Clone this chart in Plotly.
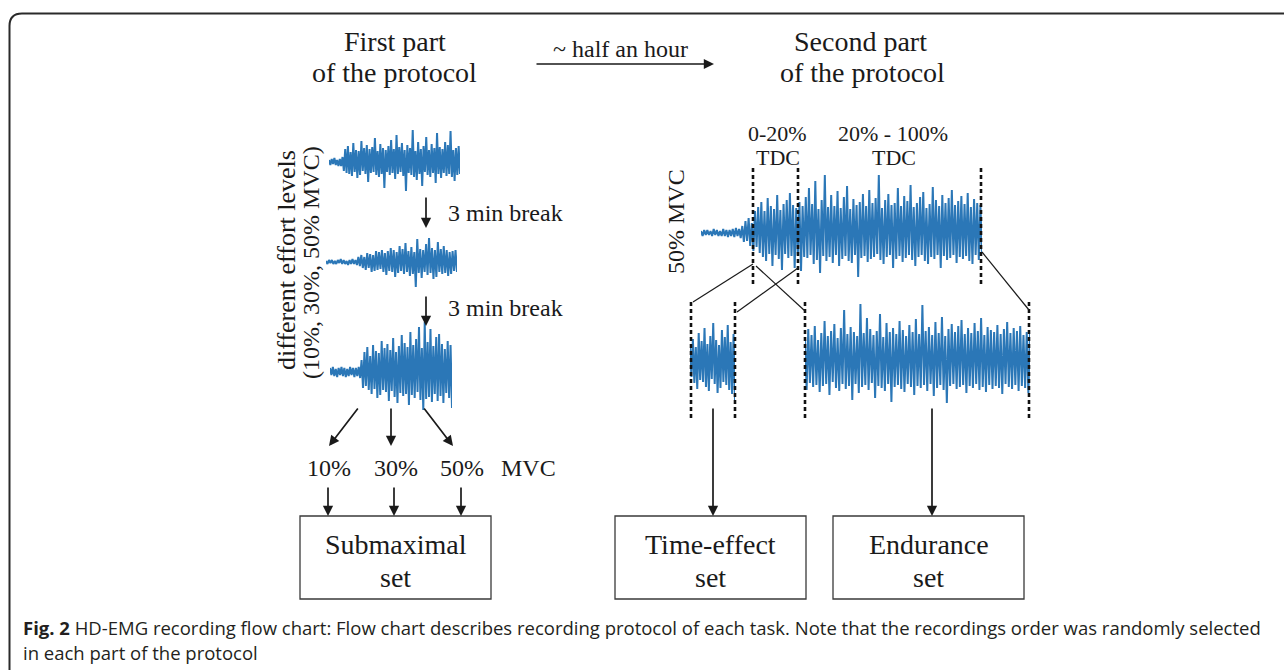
import numpy as np
import plotly.graph_objects as go

W, H = 1284, 670

# ---- EMG traces (signed amplitudes of successive peaks / troughs) ----
emg_10 = [2, -3, 3, -2, 4, -3, 2, -4, 3, -4, 5,
          -9, 13, -11, 16, -12, 10, -14, 19, -10, 12, -16, 11, -13, 21, -9, 14, -12, 17, -20, 13, -11,
          15, -10, 24, -13, 11, -15, 18, -12, 14, -26, 12, -10, 16, -13, 22, -11, 13, -17, 27, -12, 15,
          -10, 19, -14, 12, -29, 17, -11, 14, -13, 32, -15, 11, -18, 20, -12, 13, -24, 16, -10, 25, -13,
          12, -15, 18, -11, 14, -21, 29, -12, 15, -16, 13, -11, 20, -14, 17, -12, 31, -15, 12, -19, 14,
          -13, 16, -12]
emg_30 = [1, -2, 2, -1, 2, -2, 1, -2, 2, -1, 3, -2, 2, -2, 1, -3, 2, -2, 3, -2, 2, -3,
          5, -4, 7, -6, 5, -8, 9, -6, 8, -10, 7, -9, 11, -8, 10, -7, 12, -10, 9, -13,
          11, -9, 14, -10, 12, -15, 10, -11, 16, -9, 13, -12, 19, -10, 11, -14, 15, -12, 10, -25, 23,
          -11, 13, -16, 12, -10, 18, -13, 24, -11, 14, -17, 12, -15, 20, -10, 13, -12, 16, -11, 12,
          -14, 10, -12, 11, -9, 12, -10]
emg_50 = [4, -3, 5, -4, 3, -5, 4, -3, 5, -4, 4, -5, 3, -4, 5, -3, 4, -5, 4, -4, 5, -6,
          12, -16, 20, -14, 25, -18, 16, -22, 27, -17, 21, -26, 19, -23, 31, -18, 24, -20, 28, -29, 22,
          -19, 34, -25, 20, -31, 26, -21, 37, -24, 29, -22, 25, -33, 40, -23, 27, -26, 33, -20, 45, -28,
          24, -38, 50, -27, 30, -25, 43, -30, 26, -22, 35, -29, 38, -24, 28, -31, 23, -21, 31, -26, 27,
          -36]
emg_fatigue = [2, -3, 3, -2, 3, -2, 2, -3, 4, -2, 3, -3, 2, -3, 4, -3, 3, -4, 3, -3, 4, -4, 5, -3, 4, -5,
               7, -9, 12, -8, 15, -13, 10, -18, 22, -14,
               26, -20, 31, -24, 22, -28, 35, -21, 27, -33, 24, -22, 38, -26, 23, -37, 29, -21, 33, -25,
               40, -23, 28, -35, 25, -22, 31, -38, 27, -24,
               36, -25, 45, -22, 29, -31, 52, -27, 24, -40, 33, -23, 58, -28, 26, -24, 38, -30, 27, -22,
               42, -33, 25, -26, 36, -23, 47, -28, 24, -30, 34, -22, 28, -44, 31, -25, 39, -23, 27, -29,
               43, -26, 30, -24, 35, -21, 58, -27, 25, -31, 33, -24, 39, -22, 28, -35, 30, -26, 45, -23,
               27, -29, 37, -25, 32, -22, 48, -27, 26, -33, 30, -24, 36, -22, 41, -28, 25, -31, 29, -24,
               46, -26, 33, -22, 27, -35, 38, -23, 30, -27, 35, -25, 43, -22, 28, -30, 32, -24, 37, -26,
               29, -23, 40, -28, 26, -31, 34, -22, 30, -27, 28, -21]
emg_time_effect = [18, -14, 24, -20, 16, -26, 30, -17, 22, -19, 35, -24, 19, -28, 27, -16, 40, -21,
                   23, -30, 18, -25, 33, -19, 26, -22, 38, -27, 21, -31, 29, -37]
emg_endurance = [24, -28, 33, -21, 27, -25, 36, -23, 22, -30, 29, -24, 41, -22, 26, -33, 31, -20, 38, -26,
                 24, -29, 34, -22, 52, -27, 28, -24, 35, -38, 30, -22, 26, -31, 58, -25, 29, -23, 44, -28,
                 33, -21, 27, -36, 31, -24, 48, -26, 25, -29, 39, -22, 30, -40, 34, -25, 28, -23, 41, -27,
                 32, -30, 26, -22, 37, -25, 30, -33, 43, -24, 28, -26, 57, -23, 31, -29, 35, -22, 27, -34,
                 40, -26, 29, -23, 45, -28, 26, -41, 33, -24, 38, -22, 30, -27, 36, -25, 42, -23, 28, -31,
                 34, -24, 29, -26, 39, -22, 31, -28, 44, -25, 27, -30, 35, -23, 32, -27, 30, -24, 37, -26,
                 28, -32, 33, -22, 40, -25, 29, -27, 34, -23, 31, -29, 36, -24, 27, -26, 30, -31, 28]

# ---- text ----
submax_levels = ["10%", "30%", "50%"]
caption_bold = "Fig. 2"
caption_line1 = (" HD-EMG recording flow chart: Flow chart describes recording protocol of each task. "
                 "Note that the recordings order was randomly selected")
caption_line2 = "in each part of the protocol"

# ---- layout of the diagram (pixel coordinates, y downwards) ----
EMG_BLUE = "#2b77b7"
INK = "#1a1a1a"
SERIF = "Liberation Serif"
HALF = 70  # half height of each trace panel, px

panels = [  # (trace, x_left, x_right, y_centre)
    (emg_10, 329, 460, 162),
    (emg_30, 326, 457, 262),
    (emg_50, 330, 452, 372),
    (emg_fatigue, 701, 982, 233),
    (emg_time_effect, 690, 735, 363),
    (emg_endurance, 805, 1030, 362),
]

fig = go.Figure()
layout_axes = {}
for k, (vals, x0, x1, yc) in enumerate(panels, start=2):
    xa, ya = f"x{k}", f"y{k}"
    fig.add_trace(go.Scatter(
        x=np.arange(len(vals)), y=vals, mode="lines", xaxis=xa, yaxis=ya,
        line=dict(color=EMG_BLUE, width=2.0), hoverinfo="skip", showlegend=False))
    layout_axes[f"xaxis{k}"] = dict(domain=[x0 / W, x1 / W], range=[0, len(vals) - 1],
                                    visible=False, anchor=ya, fixedrange=True)
    layout_axes[f"yaxis{k}"] = dict(domain=[1 - (yc + HALF) / H, 1 - (yc - HALF) / H],
                                    range=[-HALF, HALF], visible=False, anchor=xa, fixedrange=True)

shapes = []
# outer frame with a rounded top-left corner
shapes.append(dict(type="path", xref="x", yref="y",
                   path="M 9.5,672 L 9.5,26 Q 9.5,13.5 22,13.5 L 1290,13.5",
                   line=dict(color="#2a2a2a", width=2)))

# dotted section markers
for xv, y0, y1 in [(753, 168, 286), (798, 168, 286), (981, 168, 286),
                   (691, 302, 419), (735, 302, 419), (805, 302, 419), (1029, 302, 419)]:
    shapes.append(dict(type="line", xref="x", yref="y", x0=xv, x1=xv, y0=y0, y1=y1,
                       line=dict(color="#111111", width=2.6, dash="4px,3px")))

# zoom guide lines
for xa_, ya_, xb_, yb_ in [(753, 264, 693, 302), (798, 268, 737, 312),
                           (756, 266, 805, 311), (982, 252, 1029, 310)]:
    shapes.append(dict(type="line", xref="x", yref="y", x0=xa_, y0=ya_, x1=xb_, y1=yb_,
                       line=dict(color=INK, width=1.2)))

# result boxes
boxes = [(300, 491, "Submaximal"), (615, 806, "Time-effect"), (833, 1024, "Endurance")]
for bx0, bx1, _ in boxes:
    shapes.append(dict(type="rect", xref="x", yref="y", x0=bx0, x1=bx1, y0=516, y1=599,
                       line=dict(color="#3a3a3a", width=1.3)))

annotations = []


def arrow(x_tail, y_tail, x_head, y_head):
    annotations.append(dict(x=x_head, y=y_head, ax=x_tail, ay=y_tail, xref="x", yref="y",
                            axref="x", ayref="y", text="", showarrow=True, arrowhead=2,
                            arrowsize=1.2, arrowwidth=1.7, arrowcolor=INK, standoff=0))


def label(x, y, text, size, angle=0, family=SERIF, anchor="center"):
    annotations.append(dict(x=x, y=y, xref="x", yref="y", text=text, showarrow=False,
                            textangle=angle, xanchor=anchor, yanchor="middle",
                            font=dict(family=family, size=size, color=INK)))


arrow(535, 64, 714, 64)
arrow(426, 196, 426, 228)
arrow(426, 295, 426, 326)
arrow(359, 407, 329, 446)
arrow(391, 407, 391, 446)
arrow(423, 407, 453, 446)
for xv in (328, 394, 461):
    arrow(xv, 486, xv, 516)
arrow(713, 407, 713, 516)
arrow(932, 407, 932, 516)

label(395, 41, "First part", 28)
label(394, 72, "of the protocol", 28)
label(620, 49, "~ half an hour", 24)
label(860, 41, "Second part", 28)
label(862, 72, "of the protocol", 28)
label(777, 133, "0-20%", 22)
label(778, 157, "TDC", 22)
label(893, 133, "20% - 100%", 22)
label(894, 157, "TDC", 22)
label(676, 222, "50% MVC", 24, angle=-90)
label(286, 260, "different effort levels", 26, angle=-90)
label(311, 263, "(10%, 30%, 50% MVC)", 24, angle=-90)
label(505, 213, "3 min break", 24)
label(505, 308, "3 min break", 24)
for xv, t in zip((329, 396, 462), submax_levels):
    label(xv, 468, t, 24)
label(528, 468, "MVC", 24)
for bx0, bx1, name in boxes:
    label((bx0 + bx1) / 2, 544, name, 28)
    label((bx0 + bx1) / 2, 577, "set", 28)

CAP_FONT = "Open Sans"
annotations.append(dict(x=21, y=627, xref="x", yref="y", xanchor="left", yanchor="middle",
                        showarrow=False, text=f"<b>{caption_bold}</b>{caption_line1}",
                        font=dict(family=CAP_FONT, size=18.5, color="#231f20")))
annotations.append(dict(x=21, y=652, xref="x", yref="y", xanchor="left", yanchor="middle",
                        showarrow=False, text=caption_line2,
                        font=dict(family=CAP_FONT, size=18.5, color="#231f20")))

fig.update_layout(
    width=W, height=H, margin=dict(l=0, r=0, t=0, b=0),
    paper_bgcolor="white", plot_bgcolor="rgba(0,0,0,0)",
    xaxis=dict(range=[0, W], domain=[0, 1], visible=False, fixedrange=True),
    yaxis=dict(range=[H, 0], domain=[0, 1], visible=False, fixedrange=True),
    shapes=shapes, annotations=annotations, showlegend=False,
    **layout_axes,
)
# keep a trace on the main axes so they are drawn
fig.add_trace(go.Scatter(x=[0], y=[0], mode="markers", marker=dict(opacity=0),
                         hoverinfo="skip", showlegend=False))

fig.write_html("out.html", config={"displayModeBar": False})
